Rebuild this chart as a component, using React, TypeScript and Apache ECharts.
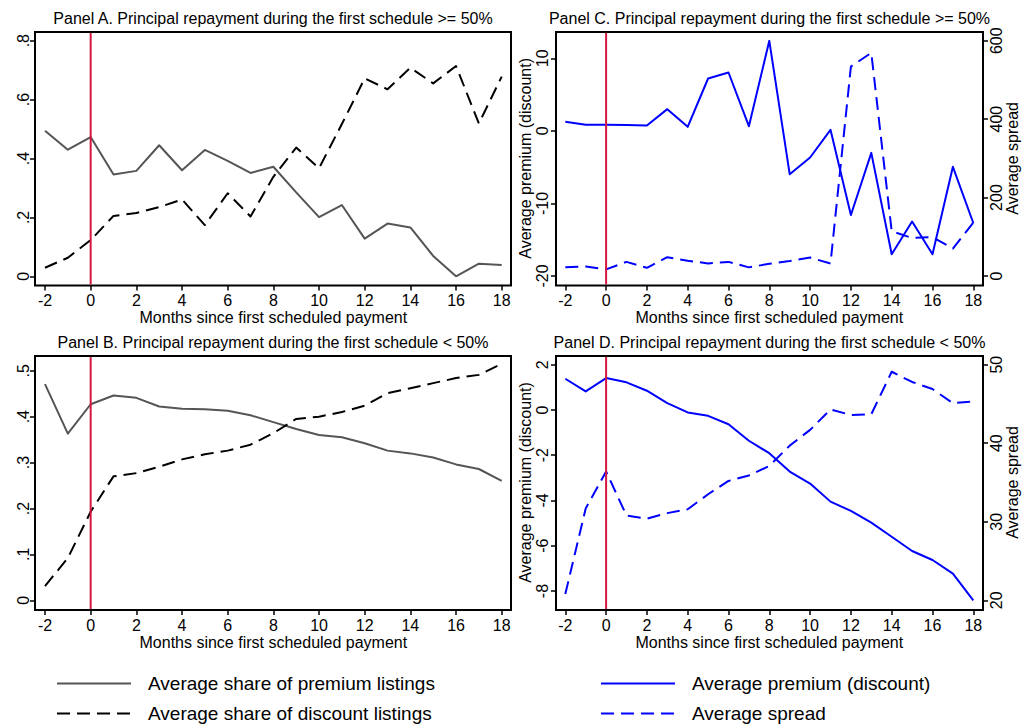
import React, { useEffect, useRef } from "react";
import * as echarts from "echarts";

// ---------- data ----------
const months = [-2, -1, 0, 1, 2, 3, 4, 5, 6, 7, 8, 9, 10, 11, 12, 13, 14, 15, 16, 17, 18];

const panelAPremiumShare = [0.494, 0.43, 0.473, 0.346, 0.358, 0.445, 0.36, 0.429, 0.392, 0.351, 0.372, 0.285, 0.201, 0.242, 0.128, 0.179, 0.166, 0.069, 0.0, 0.043, 0.038];
const panelADiscountShare = [0.029, 0.063, 0.123, 0.205, 0.215, 0.235, 0.261, 0.174, 0.282, 0.203, 0.338, 0.437, 0.367, 0.517, 0.672, 0.635, 0.708, 0.655, 0.714, 0.519, 0.678];

const panelBPremiumShare = [0.471, 0.363, 0.427, 0.446, 0.441, 0.422, 0.417, 0.416, 0.413, 0.403, 0.388, 0.373, 0.36, 0.355, 0.342, 0.326, 0.32, 0.311, 0.296, 0.286, 0.26];
const panelBDiscountShare = [0.031, 0.092, 0.193, 0.27, 0.277, 0.291, 0.307, 0.318, 0.326, 0.339, 0.364, 0.395, 0.4, 0.41, 0.424, 0.451, 0.462, 0.473, 0.484, 0.491, 0.515];

const panelCPremium = [1.24, 0.83, 0.83, 0.8, 0.73, 2.99, 0.55, 7.21, 8.04, 0.64, 12.4, -5.97, -3.67, 0.14, -11.6, -3.03, -17.0, -12.5, -17.0, -4.96, -12.7];
const panelCSpread = [22, 24, 17, 36, 21, 48, 39, 32, 36, 22, 31, 38, 47, 32, 534, 569, 114, 97, 99, 70, 136];

const panelDPremium = [1.38, 0.82, 1.41, 1.22, 0.85, 0.3, -0.11, -0.26, -0.63, -1.36, -1.91, -2.72, -3.25, -4.05, -4.46, -4.98, -5.6, -6.23, -6.63, -7.23, -8.41];
const panelDSpread = [20.8, 31.7, 36.4, 30.8, 30.4, 31.1, 31.6, 33.5, 35.2, 35.9, 37.1, 39.7, 41.7, 44.3, 43.6, 43.7, 49.1, 47.8, 46.9, 45.1, 45.3];

const shareTicksA = [0, 0.2, 0.4, 0.6, 0.8];
const shareTicksB = [0, 0.1, 0.2, 0.3, 0.4, 0.5];
const premiumTicksC = [-20, -10, 0, 10];
const spreadTicksC = [0, 200, 400, 600];
const premiumTicksD = [-8, -6, -4, -2, 0, 2];
const spreadTicksD = [20, 30, 40, 50];

const titles = [
  "Panel A. Principal repayment during the first schedule >= 50%",
  "Panel B. Principal repayment during the first schedule < 50%",
  "Panel C. Principal repayment during the first schedule >= 50%",
  "Panel D. Principal repayment during the first schedule < 50%",
];
const xName = "Months since first scheduled payment";
const premiumName = "Average premium (discount)";
const spreadName = "Average spread";
const legendPremiumShare = "Average share of premium listings";
const legendDiscountShare = "Average share of discount listings";
const legendPremium = "Average premium (discount)";
const legendSpread = "Average spread";

// ---------- layout ----------
const FONT = "Liberation Sans, Arial, Helvetica, sans-serif";
const frames = [
  { x: 35, y: 32, w: 476, h: 253.5 },
  { x: 35, y: 356, w: 476, h: 254 },
  { x: 556, y: 32, w: 427, h: 253.5 },
  { x: 556, y: 356, w: 427, h: 254 },
];
const grids = [
  { left: 45, top: 40.7, width: 456.7, height: 235.6 },
  { left: 45, top: 363.4, width: 456.7, height: 236.9 },
  { left: 565.3, top: 40.7, width: 408, height: 235.3 },
  { left: 565.3, top: 364.7, width: 408, height: 235.6 },
];
const titlePos = [
  { left: 273, top: 10 },
  { left: 273, top: 334 },
  { left: 769.5, top: 10 },
  { left: 769.5, top: 334 },
];

const GRAY = "#555555";
const BLACK = "#000000";
const BLUE = "#0000ff";
const RED = "#d4173f";
const DASH = [13, 7];

const toPairs = (vals: number[]) => months.map((m, i) => [m, vals[i]]);

const shareFmt = (v: number) => (v === 0 ? "0" : v.toFixed(1).replace(/^0/, "").replace(/^-0/, "-"));

function offsets(i: number) {
  const f = frames[i];
  const g = grids[i];
  return {
    left: g.left - f.x,
    right: f.x + f.w - (g.left + g.width),
    bottom: f.y + f.h - (g.top + g.height),
  };
}

function xAxis(i: number) {
  return {
    type: "value",
    gridIndex: i,
    min: -2,
    max: 18,
    interval: 2,
    offset: offsets(i).bottom,
    axisLine: { show: false, onZero: false },
    axisTick: { show: true, length: 5, lineStyle: { color: "#000", width: 1.5 } },
    axisLabel: { margin: 7, fontSize: 16, color: "#000" },
    splitLine: { show: false },
    name: xName,
    nameLocation: "middle",
    nameGap: 24,
    nameTextStyle: { fontSize: 16, color: "#000" },
  };
}

function yAxis(
  i: number,
  min: number,
  max: number,
  ticks: number[],
  opts: { position?: string; fmt?: (v: number) => string; margin: number; name?: string; nameGap?: number }
) {
  const o = offsets(i);
  return {
    type: "value",
    gridIndex: i,
    position: opts.position || "left",
    min,
    max,
    offset: opts.position === "right" ? o.right : o.left,
    axisLine: { show: false, onZero: false },
    axisTick: { show: true, length: 5, customValues: ticks, lineStyle: { color: "#000", width: 1.5 } },
    axisLabel: {
      rotate: 90,
      margin: opts.margin,
      fontSize: 16,
      color: "#000",
      customValues: ticks,
      formatter: opts.fmt ? opts.fmt : (v: number) => String(v),
    },
    splitLine: { show: false },
    name: opts.name || "",
    nameLocation: "middle",
    nameGap: opts.nameGap || 0,
    nameTextStyle: { fontSize: 16, color: "#000" },
  };
}

function lineSeries(name: string, vals: number[], xi: number, yi: number, color: string, dashed: boolean) {
  return {
    type: "line",
    name,
    xAxisIndex: xi,
    yAxisIndex: yi,
    data: toPairs(vals),
    symbol: "none",
    silent: true,
    lineStyle: { color, width: 2, type: dashed ? DASH : "solid", cap: "butt", join: "round" },
    itemStyle: { color },
    z: 3,
  };
}

const legendCommon = {
  orient: "vertical",
  itemWidth: 74,
  itemHeight: 14,
  itemGap: 11,
  padding: 0,
  selectedMode: false,
  itemStyle: { opacity: 0 },
  textStyle: { fontSize: 19, color: "#000", padding: [0, 0, 0, 12] },
};

const option = {
  animation: false,
  backgroundColor: "#ffffff",
  textStyle: { fontFamily: FONT },
  title: titles.map((t, i) => ({
    text: t,
    left: titlePos[i].left,
    top: titlePos[i].top,
    textAlign: "center",
    padding: 0,
    textStyle: { fontSize: 16, fontWeight: "normal", color: "#000", fontFamily: FONT },
  })),
  grid: grids.map((g) => ({ ...g, containLabel: false })),
  xAxis: [xAxis(0), xAxis(1), xAxis(2), xAxis(3)],
  yAxis: [
    yAxis(0, 0, 0.8, shareTicksA, { fmt: shareFmt, margin: 4 }),
    yAxis(1, 0, 0.516, shareTicksB, { fmt: shareFmt, margin: 4 }),
    yAxis(2, -20, 12.42, premiumTicksC, { margin: 6, name: premiumName, nameGap: 18 }),
    yAxis(2, 0, 600, spreadTicksC, { position: "right", margin: 5, name: spreadName, nameGap: 20 }),
    yAxis(3, -8.41, 2, premiumTicksD, { margin: 6, name: premiumName, nameGap: 18 }),
    yAxis(3, 20, 50, spreadTicksD, { position: "right", margin: 5, name: spreadName, nameGap: 20 }),
  ],
  legend: [
    { ...legendCommon, left: 56, top: 674, data: [legendPremiumShare, legendDiscountShare] },
    { ...legendCommon, left: 600, top: 674, data: [legendPremium, legendSpread] },
  ],
  series: [
    lineSeries(legendPremiumShare, panelAPremiumShare, 0, 0, GRAY, false),
    lineSeries(legendDiscountShare, panelADiscountShare, 0, 0, BLACK, true),
    lineSeries(legendPremiumShare, panelBPremiumShare, 1, 1, GRAY, false),
    lineSeries(legendDiscountShare, panelBDiscountShare, 1, 1, BLACK, true),
    lineSeries(legendPremium, panelCPremium, 2, 2, BLUE, false),
    lineSeries(legendSpread, panelCSpread, 2, 3, BLUE, true),
    lineSeries(legendPremium, panelDPremium, 3, 4, BLUE, false),
    lineSeries(legendSpread, panelDSpread, 3, 5, BLUE, true),
  ],
};

export default function App() {
  const ref = useRef<HTMLDivElement>(null);
  useEffect(() => {
    if (!ref.current) return;
    const chart = echarts.init(ref.current, undefined, { renderer: "svg", width: 1025, height: 724 });
    chart.setOption(option as any);
    const frameRects = frames.map((f) => ({
      type: "rect",
      silent: true,
      z: 40,
      shape: { x: f.x, y: f.y, width: f.w, height: f.h },
      style: { fill: "none", stroke: "#000", lineWidth: 2 },
    }));
    const redLines = frames.map((f, i) => {
      const px = chart.convertToPixel({ xAxisIndex: i } as any, 0) as unknown as number;
      return {
        type: "line",
        silent: true,
        z: 50,
        shape: { x1: px, y1: f.y + 1, x2: px, y2: f.y + f.h - 1 },
        style: { stroke: RED, lineWidth: 2 },
      };
    });
    chart.setOption({ graphic: [...frameRects, ...redLines] } as any);
    return () => chart.dispose();
  }, []);
  return (
    <div
      ref={ref}
      style={{ position: "fixed", left: 0, top: 0, width: 1025, height: 724, background: "#fff" }}
    />
  );
}
